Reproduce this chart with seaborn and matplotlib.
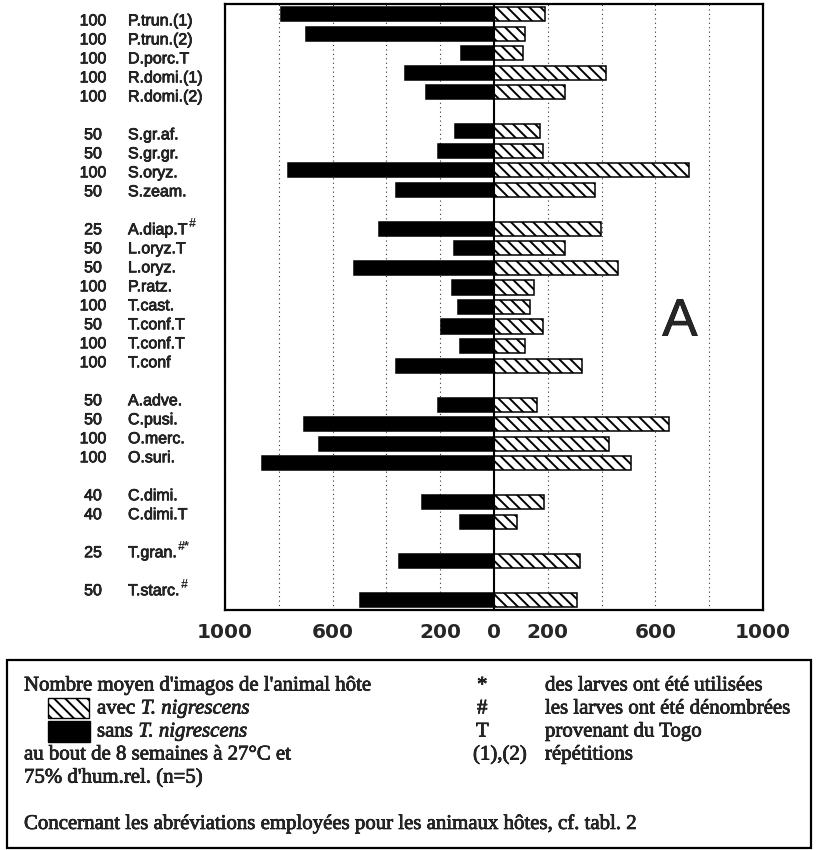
import numpy as np
import pandas as pd
import matplotlib
matplotlib.use("Agg")
import matplotlib.pyplot as plt
import matplotlib.transforms as mtransforms
import matplotlib.patheffects as pe
from matplotlib.patches import Rectangle
import seaborn as sns

# ---------------- data ----------------
hosts = ["P.trun.(1)", "P.trun.(2)", "D.porc.T", "R.domi.(1)", "R.domi.(2)",
         "S.gr.af.", "S.gr.gr.", "S.oryz.", "S.zeam.",
         "A.diap.T", "L.oryz.T", "L.oryz.", "P.ratz.", "T.cast.", "T.conf.T", "T.conf.T", "T.conf",
         "A.adve.", "C.pusi.", "O.merc.", "O.suri.",
         "C.dimi.", "C.dimi.T",
         "T.gran.",
         "T.starc."]
superscripts = ["", "", "", "", "",
                "", "", "", "",
                "#", "", "", "", "", "", "", "",
                "", "", "", "",
                "", "",
                "#*",
                "#"]
inoculum = [100, 100, 100, 100, 100,
            50, 50, 100, 50,
            25, 50, 50, 100, 100, 50, 100, 100,
            50, 50, 100, 100,
            40, 40,
            25,
            50]
group_id = [0, 0, 0, 0, 0,
            1, 1, 1, 1,
            2, 2, 2, 2, 2, 2, 2, 2,
            3, 3, 3, 3,
            4, 4,
            5,
            6]
sans_nigrescens = [790, 700, 123, 330, 252,
                   145, 208, 766, 366,
                   428, 148, 520, 157, 135, 198, 128, 363,
                   210, 705, 649, 862,
                   269, 125,
                   352,
                   500]
avec_nigrescens = [188, 117, 107, 416, 264,
                   170, 182, 725, 375,
                   397, 265, 460, 148, 135, 181, 117, 326,
                   159, 652, 427, 510,
                   186, 85,
                   319,
                   308]
xtick_values = [-1000, -600, -200, 0, 200, 600, 1000]
xtick_labels = ["1000", "600", "200", "0", "200", "600", "1000"]

# ---------------- layout ----------------
n = len(hosts)
rows = [i + g for i, g in enumerate(group_id)]  # one blank row between groups

df = pd.DataFrame({
    "row": rows + rows,
    "val": [-v for v in sans_nigrescens] + list(avec_nigrescens),
    "cond": ["sans"] * n + ["avec"] * n,
})

sns.set_style("white")
plt.rcParams["font.family"] = ["Liberation Sans", "DejaVu Sans"]
plt.rcParams["hatch.linewidth"] = 1.4
plt.rcParams["hatch.color"] = "black"

W, H = 817, 850
fig = plt.figure(figsize=(W / 100, H / 100), dpi=100)
ax_left, ax_right, ax_top, ax_bottom = 225, 763, 4, 610
ax = fig.add_axes([ax_left / W, 1 - ax_bottom / H, (ax_right - ax_left) / W, (ax_bottom - ax_top) / H])

sns.barplot(data=df, x="val", y="row", hue="cond", hue_order=["sans", "avec"],
            orient="h", native_scale=True, dodge=False,
            palette={"sans": "black", "avec": "white"},
            width=0.72, edgecolor="black", linewidth=1.1, legend=False, ax=ax,
            zorder=3)
for p in ax.containers[1]:
    p.set_hatch("\\\\\\")

ax.set_xlim(-1000, 1000)
ax.set_ylim(max(rows) + 0.52, -0.52)
ax.axvline(0, color="black", lw=1.5, zorder=4)

# dotted grid every 200
ax.set_xticks(xtick_values)
ax.set_xticklabels(xtick_labels, fontfamily="DejaVu Sans", fontweight="bold", fontsize=14.5)
ax.set_xticks(np.arange(-800, 801, 200), minor=True)
ax.grid(False)
ax.grid(True, which="both", axis="x", color="black", lw=0.8, linestyle=(0, (1, 3)), alpha=0.8, zorder=0)
ax.tick_params(axis="x", which="both", length=0, pad=9)
ax.set_yticks([])
ax.set_xlabel("")
ax.set_ylabel("")
for s in ax.spines.values():
    s.set_visible(True)
    s.set_color("black")
    s.set_linewidth(1.6)

heavy = [pe.withStroke(linewidth=0.5, foreground="black")]

# left labels (inoculum number + host name)
trans = mtransforms.blended_transform_factory(ax.transAxes, ax.transData)
for r, num, name, sup in zip(rows, inoculum, hosts, superscripts):
    ly = 0.343 + 0.973 * r
    ax.text(-0.2454, ly, str(num), transform=trans, ha="center", va="center", fontsize=11.5,
            path_effects=heavy)
    t = ax.text(-0.1803, ly, name, transform=trans, ha="left", va="center", fontsize=11.5,
                path_effects=heavy)
    if sup:
        ax.annotate(sup, xy=(1.02, 0.5), xycoords=t, ha="left", va="bottom",
                    fontsize=9, fontweight="bold")

ax.text(691, 15.75, "A", ha="center", va="center", fontsize=38, path_effects=heavy)

# ---------------- bottom legend box ----------------
def fx(px):
    return px / W


def fy(py):
    return 1 - py / H


fig.add_artist(Rectangle((fx(7), fy(848)), fx(811) - fx(7), fy(660) - fy(848),
                         transform=fig.transFigure, fill=False, lw=1.6, ec="black"))
serif = ["Liberation Serif", "DejaVu Serif"]
fs = 15
lines_y = [686, 709, 732, 755, 778, 824]
kw = dict(family=serif, fontsize=fs, va="center", path_effects=heavy)

fig.text(fx(24), fy(lines_y[0]), "Nombre moyen d'imagos de l'animal hôte", **kw)
fig.add_artist(Rectangle((fx(48), fy(718)), fx(89) - fx(48), fy(698) - fy(718),
                         transform=fig.transFigure, facecolor="white", edgecolor="black", lw=1.0, hatch="\\\\\\"))
fig.add_artist(Rectangle((fx(48), fy(742)), fx(90) - fx(48), fy(721) - fy(742),
                         transform=fig.transFigure, facecolor="black", edgecolor="black", lw=1.0))
for ypx, word in [(lines_y[1], "avec "), (lines_y[2], "sans ")]:
    t = fig.text(fx(97), fy(ypx), word, **kw)
    fig.add_artist(matplotlib.text.Annotation("T. nigrescens", xy=(1.0, 0.0), xycoords=t,
                                              ha="left", va="bottom", family=serif,
                                              fontsize=fs, style="italic", annotation_clip=False,
                                              path_effects=heavy))
fig.text(fx(24), fy(lines_y[3]), "au bout de 8 semaines à 27°C et", **kw)
fig.text(fx(24), fy(lines_y[4]), "75% d'hum.rel. (n=5)", **kw)
fig.text(fx(24), fy(lines_y[5]), "Concernant les abréviations employées pour les animaux hôtes, cf. tabl. 2", **kw)

symbols = ["*", "#", "T", "(1),(2)"]
meanings = ["des larves ont été utilisées", "les larves ont été dénombrées",
            "provenant du Togo", "répétitions"]
sym_x = [477, 477, 476, 473]
for sx, ypx, sym, mean in zip(sym_x, lines_y[:4], symbols, meanings):
    fig.text(fx(sx), fy(ypx), sym, **kw)
    fig.text(fx(545), fy(ypx), mean, **kw)

fig.savefig("out.png", dpi=100)
